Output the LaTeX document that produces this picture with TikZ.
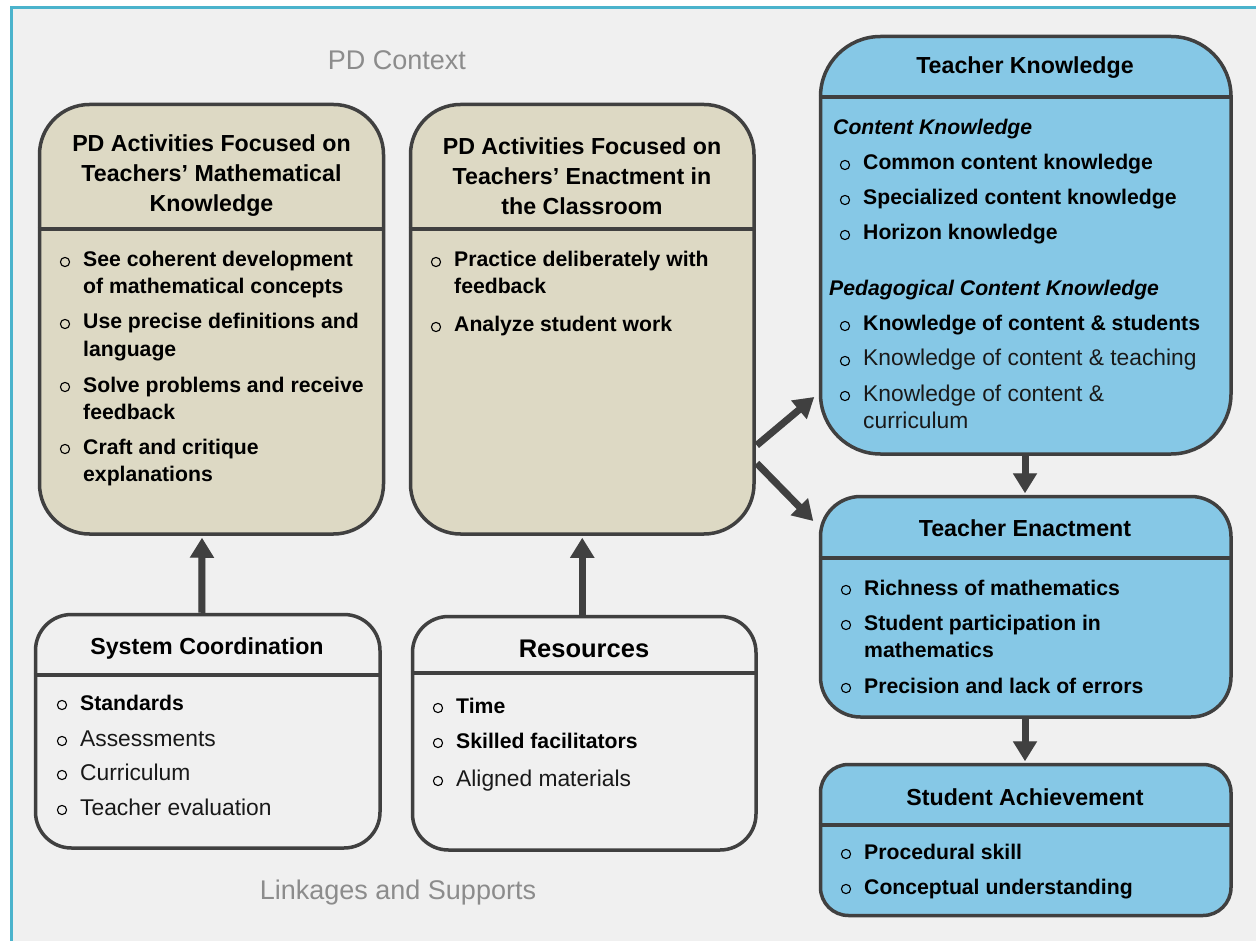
\documentclass[tikz,border=0pt]{standalone}
\usepackage{fontspec}
\setmainfont{Liberation Sans}
\usetikzlibrary{arrows.meta,calc}
\definecolor{tanfill}{HTML}{DDD9C4}
\definecolor{skyfill}{HTML}{86C8E6}
\definecolor{bgc}{HTML}{F0F0F0}
\definecolor{edgec}{HTML}{404040}
\definecolor{framec}{HTML}{4BB3CC}
\definecolor{lblc}{HTML}{8C8C8C}
\tikzset{
  box/.style={draw=edgec, line width=3.5pt, inner sep=0pt},
  divl/.style={draw=edgec, line width=3.5pt},
  ttl/.style={font=\fontsize{23.2}{30}\selectfont\bfseries, text=black, inner sep=0pt, align=center},
  itb/.style={font=\fontsize{21.2}{27}\selectfont\bfseries, text=black, inner sep=0pt},
  itr/.style={font=\fontsize{22.8}{27}\selectfont, text=black!90, inner sep=0pt},
  iti/.style={font=\fontsize{21.2}{27}\selectfont\bfseries\itshape, text=black, inner sep=0pt},
  bul/.style={draw=black, line width=1.1pt},
  arr/.style={draw=edgec, line width=7pt, -{Triangle[width=23pt,length=20pt]}},
  arrsh/.style={draw=black, opacity=0.15, line width=7pt, -{Triangle[width=23pt,length=20pt]}},
  ctx/.style={font=\fontsize{27}{30}\selectfont, text=lblc, inner sep=0pt}
}
\newcommand{\bitem}[5]{%
  \node[#5, anchor=base west] (#1) at (#2,#3) {#4};
  \draw[bul] ([xshift=-18pt,yshift=5pt]#1.base west) circle[radius=4.6pt];}
\newcommand{\citem}[5]{%
  \node[#5, anchor=base west] (#1) at (#2,#3) {#4};}
\begin{document}
\begin{tikzpicture}[x=1pt,y=-1pt]
\useasboundingbox (0,0) rectangle (1256,941);
\fill[white] (0,0) rectangle (1256,941);
\fill[bgc] (11,8) rectangle (1262,947);
\draw[framec, line width=3pt] (11,947) -- (11,8) -- (1262,8);

% context labels
\node[ctx] (pdctx) at (397,60) {PD Context};
\node[ctx] (linksup) at (398,893) {Linkages and Supports};

% boxes
\node[box, fill=tanfill, rounded corners=50pt, minimum width=344pt, minimum height=429.5pt] (pdm) at (211.5,319.25) {};
\node[box, fill=tanfill, rounded corners=50pt, minimum width=343.5pt, minimum height=429.5pt] (pde) at (582.25,319.25) {};
\node[box, fill=skyfill, rounded corners=60pt, minimum width=410.5pt, minimum height=417.5pt] (tk) at (1025.75,245.25) {};
\node[box, fill=skyfill, rounded corners=40pt, minimum width=410.5pt, minimum height=220.5pt] (te) at (1025.75,606.75) {};
\node[box, fill=skyfill, rounded corners=28pt, minimum width=410.5pt, minimum height=151pt] (sa) at (1025.75,840) {};
\node[box, fill=bgc, rounded corners=36pt, minimum width=344.5pt, minimum height=233.5pt] (sc) at (207.75,731.25) {};
\node[box, fill=bgc, rounded corners=36pt, minimum width=343.5pt, minimum height=233.5pt] (res) at (584.25,733.25) {};

% dividers
\coordinate (dpm) at (0,229);
\coordinate (dtk) at (0,97);
\coordinate (dte) at (0,558);
\coordinate (dsa) at (0,825);
\coordinate (dsc) at (0,675);
\coordinate (dres) at (0,673);
\draw[divl] (pdm.west |- dpm) -- (pdm.east |- dpm);
\draw[divl] (pde.west |- dpm) -- (pde.east |- dpm);
\draw[divl] (tk.west |- dtk) -- (tk.east |- dtk);
\draw[divl] (te.west |- dte) -- (te.east |- dte);
\draw[divl] (sa.west |- dsa) -- (sa.east |- dsa);
\draw[divl] (sc.west |- dsc) -- (sc.east |- dsc);
\draw[divl] (res.west |- dres) -- (res.east |- dres);

% titles
\node[ttl] (pdmt) at (211.5,176) {PD Activities Focused on\\Teachers’ Mathematical\\Knowledge};
\node[ttl] (pdet) at (582,176) {PD Activities Focused on\\Teachers’ Enactment in\\the Classroom};
\node[ttl] (tkt) at (1025,68) {Teacher Knowledge};
\node[ttl] (tet) at (1025,528) {Teacher Enactment};
\node[ttl] (sat) at (1025,797) {Student Achievement};
\node[ttl] (sct) at (207,648) {System Coordination};
\node[ttl, font=\fontsize{25.5}{30}\selectfont\bfseries] (rest) at (584,649) {Resources};

% PD math items
\bitem{m1}{83}{267}{See coherent development}{itb}
\citem{m1b}{83}{294}{of mathematical concepts}{itb}
\bitem{m2}{83}{329}{Use precise definitions and}{itb}
\citem{m2b}{83}{356}{language}{itb}
\bitem{m3}{83}{392}{Solve problems and receive}{itb}
\citem{m3b}{83}{419}{feedback}{itb}
\bitem{m4}{83}{454}{Craft and critique}{itb}
\citem{m4b}{83}{481}{explanations}{itb}

% PD enactment items
\bitem{e1}{454}{267}{Practice deliberately with}{itb}
\citem{e1b}{454}{294}{feedback}{itb}
\bitem{e2}{454}{332}{Analyze student work}{itb}

% Teacher knowledge
\citem{ck}{833}{135}{Content Knowledge}{iti}
\bitem{k1}{863}{170}{Common content knowledge}{itb}
\bitem{k2}{863}{205}{Specialized content knowledge}{itb}
\bitem{k3}{863}{240}{Horizon knowledge}{itb}
\citem{pck}{829}{296}{Pedagogical Content Knowledge}{iti}
\bitem{k4}{863}{331}{Knowledge of content \& students}{itb}
\bitem{k5}{863}{366}{Knowledge of content \& teaching}{itr}
\bitem{k6}{863}{401}{Knowledge of content \&}{itr}
\citem{k6b}{863}{428}{curriculum}{itr}

% Teacher enactment
\bitem{t1}{864}{595}{Richness of mathematics}{itb}
\bitem{t2}{864}{630}{Student participation in}{itb}
\citem{t2b}{864}{657}{mathematics}{itb}
\bitem{t3}{864}{693}{Precision and lack of errors}{itb}

% Student achievement
\bitem{s1}{864}{859}{Procedural skill}{itb}
\bitem{s2}{864}{894}{Conceptual understanding}{itb}

% System coordination
\bitem{c1}{80}{710}{Standards}{itb}
\bitem{c2}{80}{746}{Assessments}{itr}
\bitem{c3}{80}{780}{Curriculum}{itr}
\bitem{c4}{80}{815}{Teacher evaluation}{itr}

% Resources
\bitem{r1}{456}{713}{Time}{itb}
\bitem{r2}{456}{748}{Skilled facilitators}{itb}
\bitem{r3}{456}{786}{Aligned materials}{itr}

% arrow shadows
\begin{scope}[shift={(2,3)}]
\draw[arrsh] ($(sc.north)+(-6,0)$) -- ($(pdm.south)+(-9.5,2)$);
\draw[arrsh] ($(res.north)+(-2,0)$) -- ($(pde.south)+(0,2)$);
\draw[arrsh] ($(pde.east)+(1,126)$) -- ($(tk.west)+(-4.5,151.75)$);
\draw[arrsh] ($(pde.east)+(1,144)$) -- ($(te.west)+(-5.5,-85.75)$);
\draw[arrsh] ($(tk.south)+(-0.75,0)$) -- ($(te.north)+(-0.75,-1.5)$);
\draw[arrsh] ($(te.south)+(-0.75,0)$) -- ($(sa.north)+(-0.75,-1.5)$);
\end{scope}
% arrows
\draw[arr] ($(sc.north)+(-6,0)$) -- ($(pdm.south)+(-9.5,2)$);
\draw[arr] ($(res.north)+(-2,0)$) -- ($(pde.south)+(0,2)$);
\draw[arr] ($(pde.east)+(1,126)$) -- ($(tk.west)+(-4.5,151.75)$);
\draw[arr] ($(pde.east)+(1,144)$) -- ($(te.west)+(-5.5,-85.75)$);
\draw[arr] ($(tk.south)+(-0.75,0)$) -- ($(te.north)+(-0.75,-1.5)$);
\draw[arr] ($(te.south)+(-0.75,0)$) -- ($(sa.north)+(-0.75,-1.5)$);
\end{tikzpicture}
\end{document}
